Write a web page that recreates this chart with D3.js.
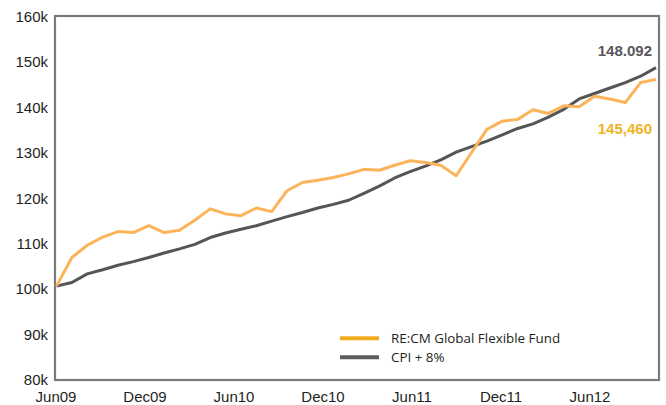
<!DOCTYPE html>
<html>
<head>
<meta charset="utf-8">
<script src="https://cdn.jsdelivr.net/npm/d3@7"></script>
<style>
  body { margin: 0; background: #fff; }
  svg { display: block; }
</style>
</head>
<body>
<script>
// values in thousands, monthly from Jun09
var fund = [100.0, 106.3, 109.0, 110.8, 112.0, 111.8, 113.3, 111.8, 112.3, 114.5,
            117.0, 115.9, 115.5, 117.2, 116.4, 121.0, 122.8, 123.3, 123.9, 124.7,
            125.7, 125.5, 126.6, 127.6, 127.2, 126.6, 124.3, 129.4, 134.5, 136.3,
            136.7, 138.8, 138.0, 139.7, 139.5, 141.8, 141.2, 140.4, 144.8, 145.46];
var cpi = [100.0, 100.8, 102.7, 103.6, 104.6, 105.4, 106.3, 107.3, 108.2, 109.2,
           110.7, 111.7, 112.5, 113.3, 114.3, 115.3, 116.2, 117.2, 118.0, 118.9,
           120.4, 122.0, 123.8, 125.2, 126.4, 127.8, 129.5, 130.7, 131.9, 133.3,
           134.7, 135.7, 137.2, 138.9, 141.2, 142.4, 143.6, 144.8, 146.2, 148.092];
var xLabels = ["Jun09", "Dec09", "Jun10", "Dec10", "Jun11", "Dec11", "Jun12"];
var yTicks = [80, 90, 100, 110, 120, 130, 140, 150, 160];
var seriesNames = ["RE:CM Global Flexible Fund", "CPI + 8%"];
var endLabels = ["145,460", "148.092"];

var width = 666, height = 405;

var svg = d3.select("body").append("svg")
    .attr("width", width)
    .attr("height", height);

var x = d3.scaleLinear()
    .domain([0, fund.length - 1])
    .range([56.5, 656]);

var y = d3.scaleLinear()
    .domain([80, 160])
    .range([377, 13.5]);

// label positions along the bottom
var xl = d3.scalePoint()
    .domain(xLabels)
    .range([56, 590]);

// frame
svg.append("rect")
    .attr("x", 55)
    .attr("y", 16)
    .attr("width", 604)
    .attr("height", 364)
    .attr("fill", "none")
    .attr("stroke", "#7b7b7b")
    .attr("stroke-width", 2.2);

// y labels
svg.selectAll(".ytick")
    .data(yTicks)
  .enter().append("text")
    .attr("class", "ytick")
    .attr("x", 48)
    .attr("y", function(d) { return y(d) + 3; })
    .attr("dy", "0.35em")
    .attr("text-anchor", "end")
    .style("font-family", "'Liberation Sans', Arial, sans-serif")
    .style("font-size", "15px")
    .style("fill", "#231f20")
    .text(function(d) { return d + "k"; });

// x labels
svg.selectAll(".xtick")
    .data(xLabels)
  .enter().append("text")
    .attr("class", "xtick")
    .attr("x", function(d) { return xl(d); })
    .attr("y", 401.5)
    .attr("text-anchor", "middle")
    .style("font-family", "'Liberation Sans', Arial, sans-serif")
    .style("font-size", "15px")
    .style("fill", "#231f20")
    .text(function(d) { return d; });

var line = d3.line()
    .x(function(d, i) { return x(i); })
    .y(function(d) { return y(d); });

svg.append("path")
    .datum(cpi)
    .attr("d", line)
    .attr("fill", "none")
    .attr("stroke", "#555555")
    .attr("stroke-width", 3)
    .attr("stroke-linejoin", "round");

svg.append("path")
    .datum(fund)
    .attr("d", line)
    .attr("fill", "none")
    .attr("stroke", "#fbb45a")
    .attr("stroke-width", 3)
    .attr("stroke-linejoin", "round");

// end value labels
var last = fund.length - 1;
svg.append("text")
    .attr("x", x(last) - 4)
    .attr("y", y(cpi[last]) - 12)
    .attr("text-anchor", "end")
    .style("font-family", "'Liberation Sans', Arial, sans-serif")
    .style("font-weight", "bold")
    .style("font-size", "15px")
    .style("fill", "#58585a")
    .text(endLabels[1]);

svg.append("text")
    .attr("x", x(last) - 4)
    .attr("y", y(fund[last]) + 54)
    .attr("text-anchor", "end")
    .style("font-family", "'Liberation Sans', Arial, sans-serif")
    .style("font-weight", "bold")
    .style("font-size", "15px")
    .style("fill", "#f0b323")
    .text(endLabels[0]);

// legend
var legendColors = ["#f0ab1e", "#5e5e60"];
var lg = svg.selectAll(".legend")
    .data(seriesNames)
  .enter().append("g")
    .attr("class", "legend")
    .attr("transform", function(d, i) { return "translate(340," + (338.3 + i * 19) + ")"; });

lg.append("line")
    .attr("x1", 0)
    .attr("x2", 39)
    .attr("stroke", function(d, i) { return legendColors[i]; })
    .attr("stroke-width", 4);

lg.append("text")
    .attr("x", 51)
    .attr("dy", "0.35em")
    .style("font-family", "'Open Sans', sans-serif")
    .style("font-size", "13.4px")
    .style("fill", "#231f20")
    .text(function(d) { return d; });
</script>
</body>
</html>
